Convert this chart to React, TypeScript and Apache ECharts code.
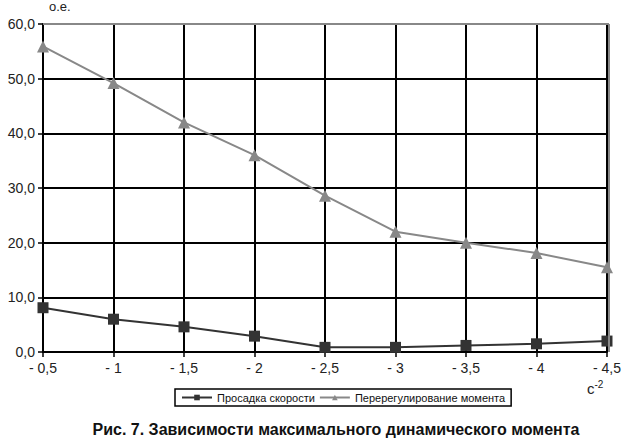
import React, { useEffect, useRef } from "react";
import * as echarts from "echarts";

const categories = ["- 0,5", "- 1", "- 1,5", "- 2", "- 2,5", "- 3", "- 3,5", "- 4", "- 4,5"];
const speedDrop = [8.1, 6.0, 4.6, 2.9, 0.85, 0.85, 1.2, 1.5, 2.0];
const torqueOvershoot = [55.9, 49.2, 42.0, 36.0, 28.6, 22.0, 20.0, 18.1, 15.5];
const yTicks = { min: 0, max: 60, interval: 10 };
const seriesNames = ["Просадка скорости", "Перерегулирование момента"];
const caption = "Рис. 7. Зависимости максимального динамического момента";

const FONT = "'Liberation Sans', Arial, sans-serif";

export default function App() {
  const ref = useRef<HTMLDivElement>(null);
  useEffect(() => {
    const chart = echarts.init(ref.current!, undefined, { renderer: "svg" });
    chart.setOption({
      animation: false,
      backgroundColor: "#fff",
      textStyle: { fontFamily: FONT },
      grid: { left: 43, right: 15, top: 24, bottom: 87, containLabel: false, show: false },
      legend: {
        bottom: 33,
        left: 175,
        data: seriesNames,
        itemWidth: 30,
        itemHeight: 7,
        itemGap: 4,
        padding: [3, 6, 3, 6],
        borderColor: "#000",
        borderWidth: 1.5,
        borderRadius: 0,
        textStyle: { fontFamily: FONT, fontSize: 11, color: "#111" },
      },
      xAxis: {
        type: "category",
        data: categories,
        boundaryGap: false,
        axisLine: { show: true, lineStyle: { color: "#000", width: 2 } },
        axisTick: { show: true, alignWithLabel: true, length: 5, lineStyle: { color: "#000", width: 1.5 } },
        axisLabel: { fontFamily: FONT, fontSize: 14, color: "#222", margin: 9 },
        splitLine: { show: true, lineStyle: { color: "#000", width: 2 } },
      },
      yAxis: {
        type: "value",
        min: yTicks.min,
        max: yTicks.max,
        interval: yTicks.interval,
        axisLine: { show: true, lineStyle: { color: "#000", width: 2 } },
        axisTick: { show: true, length: 5, lineStyle: { color: "#000", width: 1.5 } },
        axisLabel: {
          fontFamily: FONT,
          fontSize: 14,
          color: "#222",
          margin: 8,
          formatter: (v: number) => v.toFixed(1).replace(".", ","),
        },
        splitLine: { show: true, lineStyle: { color: "#000", width: 2 } },
      },
      graphic: [
        { type: "line", shape: { x1: 43, y1: 24, x2: 609, y2: 24 }, style: { stroke: "#888", lineWidth: 2 }, z: 10 },
        { type: "line", shape: { x1: 609, y1: 24, x2: 609, y2: 352 }, style: { stroke: "#888", lineWidth: 2 }, z: 10 },
        {
          type: "text",
          left: 49,
          top: 0,
          style: { text: "о.е.", font: `13px ${FONT}`, fill: "#222" },
        },
        {
          type: "text",
          left: 587,
          top: 379,
          style: {
            text: "{b|с}{s|-2}",
            rich: {
              b: { fontFamily: FONT, fontSize: 15, fill: "#222", color: "#222", verticalAlign: "bottom" },
              s: { fontFamily: FONT, fontSize: 10, fill: "#222", color: "#222", verticalAlign: "top", padding: [0, 0, 7, 0] },
            },
          },
        },
        {
          type: "text",
          x: 336,
          y: 429,
          style: {
            text: caption,
            font: `bold 16px ${FONT}`,
            fill: "#111",
            align: "center",
            verticalAlign: "middle",
          },
        },
      ],
      series: [
        {
          name: seriesNames[0],
          type: "line",
          data: speedDrop,
          symbol: "rect",
          symbolSize: 11,
          itemStyle: { color: "#333" },
          lineStyle: { color: "#333", width: 2 },
          z: 5,
        },
        {
          name: seriesNames[1],
          type: "line",
          data: torqueOvershoot,
          symbol: "triangle",
          symbolSize: 12,
          itemStyle: { color: "#888" },
          lineStyle: { color: "#888", width: 2 },
          z: 5,
        },
      ],
    });
    return () => chart.dispose();
  }, []);
  return <div ref={ref} style={{ width: 624, height: 439, position: "absolute", left: 0, top: 0 }} />;
}
